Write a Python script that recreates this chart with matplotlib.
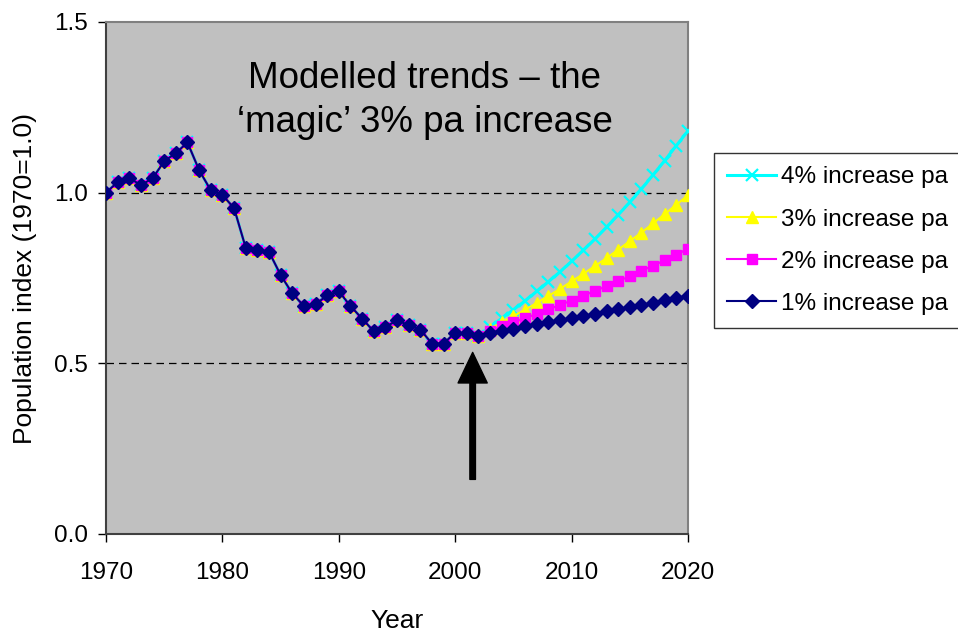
import matplotlib
matplotlib.use("Agg")
import matplotlib.pyplot as plt

plt.rcParams['font.family'] = ['Liberation Sans', 'DejaVu Sans']

# observed index 1970-2002 (shared by all four scenarios)
years_hist = list(range(1970, 2003))
index_hist = [1.000, 1.031, 1.043, 1.022, 1.042, 1.092, 1.116, 1.147, 1.066, 1.007,
              0.993, 0.955, 0.839, 0.833, 0.827, 0.759, 0.705, 0.668, 0.673, 0.699,
              0.711, 0.668, 0.631, 0.594, 0.606, 0.626, 0.612, 0.599, 0.558, 0.558,
              0.590, 0.588, 0.580]

# projected values 2003-2020
years_proj = list(range(2003, 2021))
proj_4 = [0.607, 0.632, 0.657, 0.683, 0.711, 0.739, 0.768, 0.799, 0.831, 0.864,
          0.899, 0.935, 0.972, 1.011, 1.052, 1.094, 1.138, 1.181]
proj_3 = [0.602, 0.620, 0.638, 0.657, 0.677, 0.697, 0.718, 0.740, 0.762, 0.785,
          0.808, 0.833, 0.858, 0.883, 0.910, 0.937, 0.965, 0.992]
proj_2 = [0.596, 0.608, 0.620, 0.632, 0.645, 0.658, 0.671, 0.684, 0.698, 0.712,
          0.726, 0.741, 0.755, 0.771, 0.786, 0.802, 0.818, 0.836]
proj_1 = [0.590, 0.596, 0.602, 0.608, 0.614, 0.620, 0.626, 0.632, 0.639, 0.645,
          0.652, 0.658, 0.665, 0.671, 0.678, 0.685, 0.692, 0.698]

labels = ['4% increase pa', '3% increase pa', '2% increase pa', '1% increase pa']
years = years_hist + years_proj

fig = plt.figure(figsize=(9.58, 6.35), dpi=100)
ax = fig.add_axes([106/958, 1-534/635, (688-106)/958, (534-22)/635])
ax.set_facecolor('#C0C0C0')

# drawn bottom to top: 4%, 3%, 2%, 1%
ax.plot(years, index_hist + proj_4, color='#00FFFF', lw=2.2, marker='x',
        ms=9, mew=1.6, mec='#00FFFF', label=labels[0], zorder=3)
ax.plot(years, index_hist + proj_3, color='#FFFF00', lw=1.5, marker='^',
        ms=9, mec='#FFFF00', mfc='#FFFF00', label=labels[1], zorder=4)
ax.plot(years, index_hist + proj_2, color='#FF00FF', lw=1.5, marker='s',
        ms=7.5, mec='#FF00FF', mfc='#FF00FF', label=labels[2], zorder=5)
ax.plot(years, index_hist + proj_1, color='#000080', lw=1.5, marker='D',
        ms=7.5, mec='#000080', mfc='#000080', label=labels[3], zorder=6)

for y in [0.5, 1.0]:
    ax.axhline(y, color='black', lw=0.9, ls=(0, (6, 4)), zorder=1)

ax.set_xlim(1970, 2020)
ax.set_ylim(0, 1.5)
ax.set_xticks([1970, 1980, 1990, 2000, 2010, 2020])
ax.set_yticks([0.0, 0.5, 1.0, 1.5])
ax.set_yticklabels(['0.0', '0.5', '1.0', '1.5'])
ax.tick_params(direction='out', length=6, width=1, labelsize=17.5, color='black')
ax.tick_params(axis='y', pad=7)
ax.tick_params(axis='x', pad=14)

for side in ['left', 'bottom']:
    ax.spines[side].set_color('#404040')
    ax.spines[side].set_linewidth(1.5)
for side in ['top', 'right']:
    ax.spines[side].set_color('#808080')
    ax.spines[side].set_linewidth(1.5)

ax.set_xlabel('Year', fontsize=19, labelpad=18)
ax.set_ylabel('Population index (1970=1.0)', fontsize=19, labelpad=12)

ax.text(1997.4, 1.27, 'Modelled trends \u2013 the\n\u2018magic\u2019 3% pa increase',
        fontsize=26.5, ha='center', va='center', linespacing=1.35)

ax.annotate('', xy=(2001.5, 0.532), xytext=(2001.5, 0.16),
            arrowprops=dict(facecolor='black', edgecolor='black', width=4,
                            headwidth=21, headlength=22, shrink=0))

leg = fig.legend(loc='upper left', bbox_to_anchor=(714/958, 1-153/635),
                 fontsize=17.5, frameon=True, fancybox=False, edgecolor='black',
                 handlelength=2.0, handletextpad=0.2, labelspacing=0.83,
                 borderpad=0.55, borderaxespad=0)
leg.get_frame().set_linewidth(1)

fig.savefig('out.png', dpi=100)
